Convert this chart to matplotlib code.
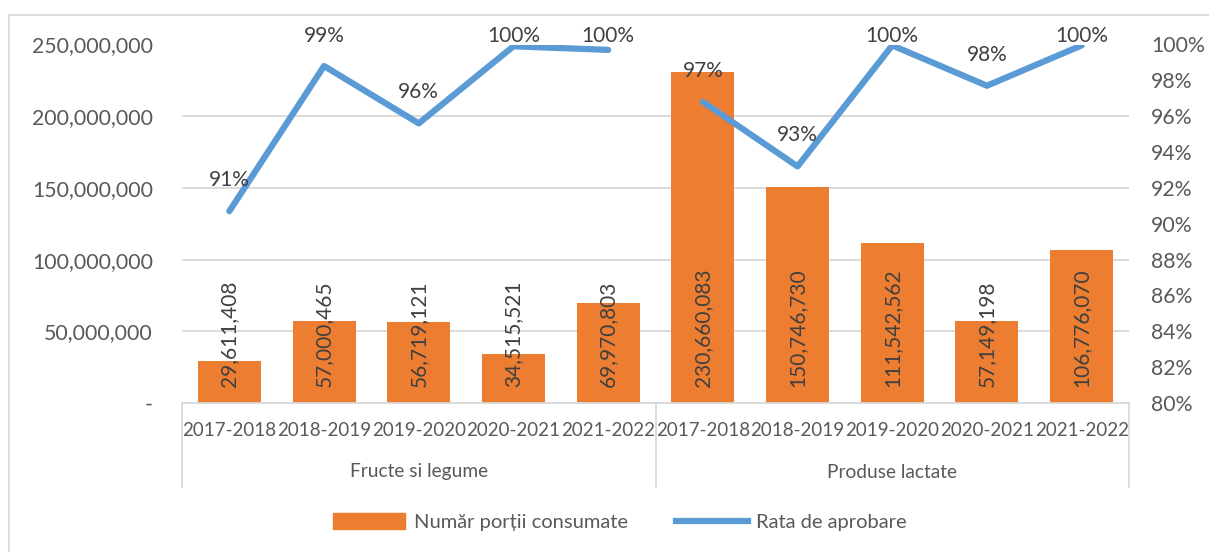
import matplotlib
matplotlib.use("Agg")
import matplotlib.pyplot as plt
from matplotlib.ticker import FuncFormatter, MultipleLocator
from matplotlib.patches import Patch, Rectangle
from matplotlib.lines import Line2D
import matplotlib.transforms as mtransforms

plt.rcParams['font.family'] = ['Lato', 'DejaVu Sans']

groups = ["Fructe si legume", "Produse lactate"]
years = ["2017-2018", "2018-2019", "2019-2020", "2020-2021", "2021-2022"]
portii_fructe = [29611408, 57000465, 56719121, 34515521, 69970803]
portii_lactate = [230660083, 150746730, 111542562, 57149198, 106776070]
rata_fructe = [90.7, 98.8, 95.6, 99.9, 99.7]
rata_lactate = [96.8, 93.2, 99.95, 97.7, 99.95]

BAR = "#ED7D31"
LINE = "#5B9BD5"
TXT = "#595959"
LBL = "#404040"
GRID = "#D9D9D9"

W, H = 1209, 552
fig = plt.figure(figsize=(W / 100, H / 100), dpi=100)
ax = fig.add_axes([182 / W, 1 - 403 / H, (1129 - 182) / W, (403 - 44.5) / H])

bars = portii_fructe + portii_lactate
n = len(bars)
xs = list(range(n))
ax.bar(xs, bars, width=0.665, color=BAR, zorder=2)
ax.set_xlim(-0.5, n - 0.5)
ax.set_ylim(0, 250_000_000)
ax.yaxis.set_major_locator(MultipleLocator(50_000_000))
ax.yaxis.set_major_formatter(FuncFormatter(lambda v, p: "-" if v == 0 else f"{int(v):,}"))
ax.tick_params(axis='y', length=0, pad=20.9, labelsize=15.3, labelcolor=TXT)
ax.set_xticks([])
ax.grid(axis='y', color=GRID, lw=1.3, zorder=0)
for s in ["top", "right", "left"]:
    ax.spines[s].set_visible(False)
ax.spines["bottom"].set_color(GRID)
ax.spines["bottom"].set_linewidth(1.3)
ax.set_axisbelow(True)

for x, v in zip(xs, bars):
    ax.annotate(f"{v:,}", (x, 0), xytext=(0, 16), textcoords='offset pixels',
                rotation=90, ha='center', va='bottom', fontsize=15, color=LBL, zorder=4)

ax2 = ax.twinx()
ax2.set_ylim(80, 100)
ax2.yaxis.set_major_locator(MultipleLocator(2))
ax2.yaxis.set_major_formatter(FuncFormatter(lambda v, p: f"{v:.0f}%"))
ax2.tick_params(axis='y', length=0, pad=15.8, labelsize=15.3, labelcolor=TXT)
for s in ax2.spines.values():
    s.set_visible(False)

k = len(years)
ax2.plot(xs[:k], rata_fructe, color=LINE, lw=4.5, solid_capstyle='round', zorder=3)
ax2.plot(xs[k:], rata_lactate, color=LINE, lw=4.5, solid_capstyle='round', zorder=3)

fig.canvas.draw()
top_limit = H - 36  # label centre cannot go above this (display px from bottom)
for x, v in zip(xs, rata_fructe + rata_lactate):
    px, py = ax2.transData.transform((x, v))
    off = min(31, top_limit - py)
    ax2.annotate(f"{round(v):.0f}%", (x, v), xytext=(0, off), textcoords='offset pixels',
                 ha='center', va='center', fontsize=15, color=LBL, annotation_clip=False)

# two-level category axis
trans = mtransforms.blended_transform_factory(ax.transData, ax.transAxes)
axh = 403 - 44.5
for x in xs:
    ax.text(x, -(430 - 403) / axh, years[x % k], transform=trans, ha='center', va='center',
            fontsize=13.5, color=TXT)
for gi, g in enumerate(groups):
    ax.text(gi * k + (k - 1) / 2, -(472 - 403) / axh, g, transform=trans, ha='center',
            va='center', fontsize=13.8, color=TXT)
for bx in [-0.5, k - 0.5, n - 0.5]:
    ax.add_line(Line2D([bx, bx], [0, -(487 - 403) / axh], transform=trans, color=GRID,
                       lw=1.3, clip_on=False))

# chart border (top-left visible)
fig.add_artist(Rectangle((9 / W, -0.1), 1.2, (552 - 15) / H + 0.1, transform=fig.transFigure,
                         fill=False, edgecolor=GRID, lw=1.3))

handles = [Patch(color=BAR, label="Număr porții consumate"),
           Line2D([], [], color=LINE, lw=4.5, label="Rata de aprobare")]
fig.legend(handles=handles, loc='center', bbox_to_anchor=(620 / W, 1 - 522 / H), ncol=2,
           frameon=False, fontsize=14.5, labelcolor=TXT, handlelength=3.6, handleheight=0.8,
           handletextpad=0.4, columnspacing=2.4)

fig.savefig("out.png", dpi=100)
